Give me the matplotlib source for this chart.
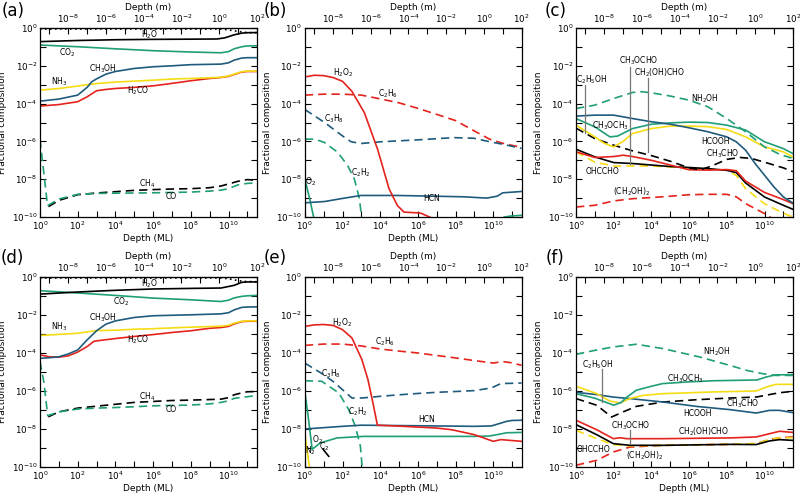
import numpy as np
import matplotlib
matplotlib.use("Agg")
import matplotlib.pyplot as plt
from matplotlib.ticker import FixedLocator, LogFormatterSciNotation, NullFormatter

# ---------------- data: (log10 depth [ML], log10 fractional composition) ----------------
# Panel (a)
A_TOTAL = [(0, -0.05), (9.6, -0.05), (10.0, -0.1), (10.5, -0.18), (11.0, -0.24), (11.5, -0.25)]
A_H2O = [(0, -0.72), (2, -0.66), (4, -0.62), (6, -0.6), (8, -0.59), (9.4, -0.58), (9.8, -0.52),
         (10.3, -0.36), (10.7, -0.27), (11, -0.25), (11.5, -0.24)]
A_CO2 = [(0, -0.9), (2, -0.99), (4, -1.1), (6, -1.2), (8, -1.27), (9.6, -1.31), (10, -1.25),
         (10.3, -1.1), (10.7, -0.99), (11, -0.95), (11.5, -0.94)]
A_CH3OH = [(0, -3.87), (1, -3.76), (2, -3.55), (2.5, -3.14), (2.75, -2.84), (3, -2.69), (3.5, -2.44),
           (4, -2.3), (5, -2.14), (6, -2.05), (7, -2.0), (8, -1.94), (9.6, -1.91), (10, -1.84),
           (10.3, -1.7), (10.7, -1.59), (11, -1.57), (11.5, -1.57)]
A_NH3 = [(0, -3.29), (1, -3.2), (2, -3.07), (2.7, -2.97), (3, -2.94), (4, -2.86), (5, -2.81), (6, -2.76),
         (7, -2.7), (8, -2.67), (9.6, -2.61), (10, -2.54), (10.3, -2.44), (10.7, -2.31), (11, -2.28), (11.5, -2.28)]
A_H2CO = [(0, -4.13), (1, -4.05), (2, -3.9), (2.5, -3.64), (3, -3.32), (3.5, -3.25), (4, -3.2), (5, -3.14),
          (6, -3.06), (7, -2.93), (8, -2.79), (9, -2.67), (9.6, -2.62), (10, -2.56), (10.3, -2.46),
          (10.7, -2.33), (11, -2.3), (11.5, -2.3)]
A_CH4 = [(0.45, -9.45), (1, -9.12), (2, -8.82), (3, -8.73), (4, -8.66), (5, -8.59), (6, -8.55), (7, -8.52),
         (8, -8.5), (9, -8.45), (9.6, -8.36), (10, -8.25), (10.5, -8.11), (11, -8.02), (11.5, -8.06)]
A_CO = [(0, -5.9), (0.4, -9.4), (1, -9.05), (2, -8.8), (3, -8.75), (4, -8.74), (5, -8.73), (6, -8.72),
        (7, -8.7), (8, -8.68), (9, -8.63), (9.6, -8.58), (10, -8.5), (10.5, -8.3), (11, -8.22), (11.5, -8.2)]

# Panel (b)
B_H2O2 = [(0, -2.59), (0.5, -2.5), (1, -2.52), (1.5, -2.62), (2, -2.82), (2.5, -3.35), (3.16, -4.48),
          (3.86, -6.41), (4.47, -8.51), (4.91, -9.39), (5.26, -9.74), (6.14, -9.79), (6.84, -10.1)]
B_C2H6 = [(0, -3.55), (1, -3.5), (2, -3.5), (3, -3.55), (4, -3.75), (5, -3.96), (6, -4.25), (7, -4.57),
          (8, -4.9), (9, -5.45), (9.8, -5.88), (10.5, -6.1), (11.5, -6.32)]
B_C3H8 = [(0, -4.31), (0.53, -4.66), (1.05, -5.0), (2, -5.71), (2.46, -6.02), (2.98, -6.11), (4.03, -6.02),
          (5.96, -5.92), (7.9, -5.8), (8.95, -5.83), (9.82, -6.02), (10.5, -6.15), (11.5, -6.37)]
B_C2H2 = [(0, -5.88), (0.53, -5.88), (1.05, -6.06), (1.75, -6.58), (2.28, -7.29), (2.63, -7.99),
          (2.9, -9.04), (3.02, -10.1)]
B_HCN = [(0, -9.25), (1.05, -9.18), (2.1, -9.0), (2.98, -8.86), (4.9, -8.86), (8.42, -8.93), (9.65, -9.0),
         (10.2, -8.9), (10.5, -8.72), (11.5, -8.65)]
B_O2 = [(0, -7.99), (0.26, -9.04), (0.49, -10.1), (0.7, -12), (10.0, -12), (10.33, -10.1), (10.6, -10.0),
        (10.9, -9.95), (11.5, -9.91)]

# Panel (c)
C_NH2OH = [(0, -4.26), (1, -4.08), (2, -3.73), (3, -3.41), (3.5, -3.37), (4, -3.43), (5, -3.6), (6, -3.82),
           (7, -4.17), (8, -4.79), (9, -5.49), (10, -6.29), (10.8, -6.68), (11.5, -6.9)]
C_HCOOH = [(0, -4.66), (1, -4.61), (2, -4.61), (3, -4.79), (4, -4.96), (5, -5.09), (6, -5.28), (7, -5.49),
           (8, -5.76), (8.5, -6.02), (9, -6.47), (9.5, -7.17), (10, -7.79), (10.5, -8.41), (11, -8.94), (11.5, -9.26)]
C_CH3OCH3 = [(0, -4.79), (1, -5.23), (1.8, -5.76), (2.2, -5.72), (3, -5.32), (4, -5.09), (5, -5.02),
             (6, -4.98), (7, -5.0), (8, -5.14), (9, -5.4), (10, -6.02), (11, -6.38), (11.5, -6.64)]
C_C2H5OH = [(0, -5.14), (1, -5.76), (1.5, -6.1), (2, -6.29), (2.5, -6.0), (3, -5.58), (4, -5.32),
            (5, -5.19), (6, -5.19), (7, -5.22), (8, -5.37), (9, -5.76), (10, -6.29), (11, -6.55), (11.5, -6.82)]
C_CH3CHO = [(0, -5.3), (1, -5.85), (2, -6.2), (3, -6.5), (4, -6.75), (5, -7.05), (6, -7.4), (6.6, -7.5),
            (7.2, -7.3), (8, -6.95), (8.7, -6.85), (9.3, -6.9), (10, -7.1), (11, -7.4), (11.5, -7.6)]
C_CH2OHCHO = [(0, -6.55), (1, -6.85), (2, -6.8), (2.5, -6.73), (3, -6.8), (4, -7.0), (5, -7.25), (6, -7.5),
              (7, -7.52), (8, -7.49), (8.5, -7.55), (9, -8.1), (10, -8.7), (11, -9.08), (11.5, -9.29)]
C_CH3OCHO = [(0, -6.41), (1, -6.82), (2, -7.12), (3, -7.17), (4, -7.25), (5, -7.33), (6, -7.38), (7, -7.44),
             (8, -7.53), (8.5, -7.65), (9, -8.2), (10, -8.94), (11, -9.38), (11.5, -9.59)]
C_OHCCHO = [(0, -6.55), (1, -7.1), (2, -7.3), (4, -7.3), (6, -7.4), (8, -7.53), (8.5, -7.8), (9, -8.5),
            (10, -9.3), (11, -9.8), (11.5, -10.0)]
C_CH2OH2 = [(0, -9.47), (1, -9.38), (2, -9.15), (3, -9.03), (4, -8.97), (5, -8.9), (6, -8.82), (7, -8.8),
            (8, -8.8), (8.5, -8.93), (9, -9.29), (10, -9.82), (10.6, -10.2)]

# Panel (d)
D_TOTAL = [(0, -0.05), (9.6, -0.05), (10.0, -0.09), (10.4, -0.17), (10.8, -0.23), (11.5, -0.25)]
D_H2O = [(0, -0.9), (2, -0.79), (4, -0.7), (6, -0.63), (8, -0.6), (9.6, -0.58), (10.3, -0.44),
         (10.7, -0.28), (11, -0.26), (11.5, -0.26)]
D_CO2 = [(0, -0.72), (2, -0.84), (4, -0.97), (6, -1.11), (8, -1.2), (9.6, -1.29), (10, -1.22),
         (10.3, -1.1), (10.7, -1.02), (11, -0.99), (11.5, -0.97)]
D_CH3OH = [(0, -4.28), (0.5, -4.25), (1, -4.2), (1.5, -4.05), (2, -3.84), (2.5, -3.31), (3, -2.83),
           (3.5, -2.48), (4, -2.31), (5, -2.13), (6, -2.04), (8, -1.99), (9.6, -1.94), (10, -1.88),
           (10.3, -1.73), (10.7, -1.6), (11, -1.58), (11.5, -1.57)]
D_NH3 = [(0, -3.08), (1, -3.02), (2, -2.96), (3, -2.82), (4, -2.8), (5, -2.75), (6, -2.72), (7, -2.68),
         (8, -2.64), (9.6, -2.59), (10, -2.54), (10.3, -2.43), (10.7, -2.33), (11, -2.31), (11.5, -2.31)]
D_H2CO = [(0, -4.1), (0.5, -4.2), (1, -4.22), (1.5, -4.15), (2, -3.95), (2.5, -3.66), (2.87, -3.38),
          (3.5, -3.3), (4, -3.24), (5, -3.13), (6, -3.03), (7, -2.92), (8, -2.83), (9, -2.7), (9.6, -2.66),
          (10, -2.6), (10.3, -2.47), (10.7, -2.35), (11, -2.33), (11.5, -2.33)]
D_CH4 = [(0.44, -7.36), (1, -7.1), (2, -6.9), (3, -6.8), (4, -6.7), (5, -6.6), (6, -6.55), (7, -6.5),
         (8, -6.48), (9, -6.45), (9.6, -6.43), (10, -6.35), (10.3, -6.2), (10.7, -6.1), (11, -6.04), (11.5, -6.03)]
D_CO = [(0, -4.45), (0.2, -5.5), (0.41, -7.3), (1, -7.1), (2, -6.95), (3, -6.9), (4, -6.87), (5, -6.83),
        (6, -6.78), (7, -6.76), (8, -6.74), (9, -6.68), (9.6, -6.6), (10, -6.52), (10.3, -6.39),
        (10.7, -6.33), (11, -6.3), (11.5, -6.24)]

# Panel (e)
E_H2O2 = [(0, -2.6), (0.5, -2.52), (1, -2.5), (1.5, -2.55), (2, -2.77), (2.5, -3.21), (3.03, -4.35),
          (3.35, -5.4), (3.65, -6.8), (3.85, -7.8), (5, -7.85), (6, -7.9), (7, -7.95), (7.8, -8.04),
          (9, -8.3), (10, -8.65), (10.4, -8.56), (11.5, -8.65)]
E_C2H6 = [(0, -3.6), (1, -3.53), (2, -3.53), (3, -3.63), (4, -3.79), (5, -3.9), (6, -4.0), (7, -4.13),
          (8, -4.26), (9, -4.4), (10, -4.53), (10.5, -4.45), (11, -4.52), (11.5, -4.65)]
E_C3H8 = [(0, -4.53), (1, -5.14), (1.5, -5.5), (2, -5.93), (2.5, -6.37), (3.03, -6.37), (4, -6.28),
          (5, -6.2), (6, -6.13), (7, -6.07), (8.15, -6.02), (9, -5.98), (9.9, -5.84), (10.4, -5.61), (11.5, -5.58)]
E_C2H2 = [(0, -5.46), (0.9, -5.49), (1.8, -6.1), (2.33, -6.98), (2.68, -7.86), (2.95, -8.91), (3.05, -10.1)]
E_HCN = [(0, -8.0), (2, -7.86), (3, -7.8), (5, -7.82), (7, -7.84), (9, -7.86), (9.9, -7.84), (10.3, -7.72),
         (10.7, -7.6), (11, -7.55), (11.5, -7.54)]
E_O2 = [(0, -6.02), (0.2, -7.5), (0.39, -9.07), (0.81, -8.74), (1.71, -8.47), (3.12, -8.39), (5, -8.39),
        (7, -8.39), (9, -8.39), (9.8, -8.37), (10.3, -8.28), (10.7, -8.2), (11.5, -8.18)]
E_N2 = [(0, -8.2), (0.27, -10.2)]
E_C2 = [(0.97, -9.07), (1.27, -9.44)]

# Panel (f)
F_NH2OH = [(0, -4.07), (1, -3.86), (1.98, -3.68), (3.2, -3.54), (4.62, -3.77), (6.56, -4.21), (8.15, -4.65),
           (9.03, -4.91), (9.91, -5.09), (10.6, -5.18), (11.5, -5.18)]
F_CH3OCH3 = [(0, -6.14), (1, -6.38), (1.6, -6.6), (2.0, -6.75), (2.4, -6.6), (2.7, -6.32), (3.2, -5.96),
             (4, -5.75), (4.6, -5.61), (6, -5.52), (7.3, -5.46), (9.6, -5.42), (10.1, -5.26), (10.6, -5.15), (11.5, -5.14)]
F_C2H5OH = [(0, -5.75), (1.1, -6.14), (1.8, -6.53), (2.33, -6.63), (2.86, -6.4), (3.56, -6.23), (4.62, -6.14),
            (7.27, -6.05), (9.56, -6.0), (10.1, -5.79), (10.6, -5.65), (11.5, -5.65)]
F_HCOOH = [(0, -6.07), (1.1, -6.19), (1.98, -6.32), (2.86, -6.4), (4.62, -6.58), (6.38, -6.81), (8.15, -6.98),
           (9.56, -7.16), (10.26, -7.02), (10.8, -7.02), (11.5, -7.14)]
F_CH3CHO = [(0, -6.4), (1.1, -6.75), (1.89, -7.37), (2.5, -7.1), (3.2, -6.81), (4.62, -6.58), (6.38, -6.46),
            (8.15, -6.37), (9.56, -6.32), (10.26, -6.19), (10.8, -6.09), (11.5, -6.02)]
F_CH2OHCHO = [(0, -7.54), (1.1, -8.04), (1.98, -8.51), (2.33, -8.46), (2.68, -8.51), (4.62, -8.51),
              (8.15, -8.47), (9.56, -8.42), (10.26, -8.25), (10.8, -8.12), (11.5, -8.18)]
F_CH3OCHO = [(0, -7.77), (1.1, -8.3), (1.98, -8.77), (2.86, -8.86), (4.62, -8.86), (8.15, -8.81),
             (9.56, -8.82), (10.26, -8.63), (10.8, -8.56), (11.5, -8.6)]
F_OHCCHO = [(0, -8.07), (1.1, -8.51), (1.98, -8.82), (2.86, -8.89), (4.62, -8.86), (8.15, -8.8),
            (9.56, -8.77), (10.26, -8.56), (10.8, -8.46), (11.5, -8.46)]
F_CH2OH2 = [(0, -9.91), (1.1, -9.65), (1.98, -9.21), (2.86, -8.95), (4.62, -8.86), (8.15, -8.81),
            (9.56, -8.77), (10.26, -8.56), (10.8, -8.46), (11.5, -8.42)]

# ---------------- styling ----------------
K = "#000000"
GR = "#1f9e78"
BL = "#1f5b7d"
YE = "#f6dc14"
RD = "#e4231d"
SOL = "-"
DSH = (0, (5, 3))
DOT = (0, (1, 2))

PANELS = [
    ("(a)", [(A_TOTAL, K, DOT), (A_CO2, GR, SOL), (A_H2O, K, SOL), (A_H2CO, RD, SOL), (A_NH3, YE, SOL),
             (A_CH3OH, BL, SOL), (A_CH4, K, DSH), (A_CO, GR, DSH)],
     [("H$_2$O", 5.79, -0.33), ("CO$_2$", 1.42, -1.31), ("CH$_3$OH", 3.31, -2.14), ("NH$_3$", 1.03, -2.84),
      ("H$_2$CO", 5.22, -3.32), ("CH$_4$", 5.66, -8.23), ("CO", 6.96, -8.94)], []),
    ("(b)", [(B_C2H6, RD, DSH), (B_C3H8, BL, DSH), (B_C2H2, GR, DSH), (B_O2, GR, SOL), (B_HCN, BL, SOL),
             (B_H2O2, RD, SOL)],
     [("H$_2$O$_2$", 2.02, -2.38), ("C$_2$H$_6$", 4.39, -3.49), ("C$_3$H$_8$", 1.54, -4.8),
      ("C$_2$H$_2$", 2.95, -7.64), ("O$_2$", 0.3, -8.13), ("HCN", 6.72, -9.04)], []),
    ("(c)", [(C_CH2OH2, RD, DSH), (C_OHCCHO, YE, DSH), (C_CH3OCHO, K, SOL), (C_CH2OHCHO, RD, SOL),
             (C_CH3CHO, K, DSH), (C_C2H5OH, YE, SOL), (C_CH3OCH3, GR, SOL), (C_HCOOH, BL, SOL),
             (C_NH2OH, GR, DSH)],
     [("NH$_2$OH", 6.86, -3.73), ("CH$_3$OCH$_3$", 1.83, -5.19), ("HCOOH", 7.41, -6.02),
      ("CH$_3$CHO", 7.8, -6.64), ("OHCCHO", 1.39, -7.61), ("(CH$_2$OH)$_2$", 2.98, -8.67),
      ("C$_2$H$_5$OH", 0.81, -2.72), ("CH$_3$OCHO", 3.3, -1.72), ("CH$_2$(OH)CHO", 4.41, -2.37)],
     [(0.48, -3.0, -5.55), (2.86, -2.05, -7.17), (3.83, -2.67, -6.55)]),
    ("(d)", [(D_TOTAL, K, DOT), (D_CO2, GR, SOL), (D_H2O, K, SOL), (D_H2CO, RD, SOL), (D_NH3, YE, SOL),
             (D_CH3OH, BL, SOL), (D_CH4, K, DSH), (D_CO, GR, DSH)],
     [("H$_2$O", 5.79, -0.35), ("CO$_2$", 4.28, -1.29), ("CH$_3$OH", 3.31, -2.17), ("NH$_3$", 1.03, -2.64),
      ("H$_2$CO", 5.22, -3.31), ("CH$_4$", 5.66, -6.3), ("CO", 6.96, -6.95)], []),
    ("(e)", [(E_C2H6, RD, DSH), (E_C3H8, BL, DSH), (E_C2H2, GR, DSH), (E_O2, GR, SOL), (E_HCN, BL, SOL),
             (E_N2, YE, SOL), (E_C2, K, SOL), (E_H2O2, RD, SOL)],
     [("H$_2$O$_2$", 1.98, -2.42), ("C$_2$H$_6$", 4.27, -3.39), ("C$_3$H$_8$", 1.41, -5.11),
      ("C$_2$H$_2$", 2.82, -7.07), ("HCN", 6.44, -7.51), ("O$_2$", 0.68, -8.56), ("N$_2$", 0.32, -9.12),
      ("C$_2$", 1.0, -8.93)], []),
    ("(f)", [(F_CH2OH2, RD, DSH), (F_OHCCHO, YE, DSH), (F_CH3OCHO, K, SOL), (F_CH2OHCHO, RD, SOL),
             (F_CH3CHO, K, DSH), (F_HCOOH, BL, SOL), (F_C2H5OH, YE, SOL), (F_CH3OCH3, GR, SOL),
             (F_NH2OH, GR, DSH)],
     [("NH$_2$OH", 7.48, -3.95), ("C$_2$H$_5$OH", 1.18, -4.6), ("CH$_3$OCH$_3$", 5.8, -5.35),
      ("CH$_3$CHO", 8.85, -6.67), ("HCOOH", 6.47, -7.19), ("CH$_3$OCHO", 2.89, -7.81),
      ("CH$_2$(OH)CHO", 6.77, -8.16), ("OHCCHO", 0.95, -9.07), ("(CH$_2$OH)$_2$", 3.65, -9.42)],
     [(1.36, -4.86, -6.58), (2.86, -8.04, -8.81)]),
]

LEFTS = [0.05, 0.381, 0.72]
W = 0.271
ROWS = [(0.5616, 0.3818), (0.0566, 0.3838)]
ML_TO_M = 10 ** -9.5
TICK_FS = 6.3
AX_FS = 6.5
LAB_FS = 5.5

plt.rcParams["font.family"] = "DejaVu Sans"
plt.rcParams["mathtext.fontset"] = "dejavusans"

fig = plt.figure(figsize=(8, 4.95), dpi=100)

for i, (tag, series, labels, leaders) in enumerate(PANELS):
    r, c = divmod(i, 3)
    b, h = ROWS[r]
    ax = fig.add_axes([LEFTS[c], b, W, h])
    ax.set_xscale("log")
    ax.set_yscale("log")
    ax.set_xlim(1, 10 ** 11.5)
    ax.set_ylim(1e-10, 1.0)
    for pts, col, ls in series:
        arr = np.array(pts, dtype=float)
        ax.plot(10 ** arr[:, 0], 10 ** arr[:, 1], color=col, linestyle=ls, lw=1.2)
    for x, y1, y2 in leaders:
        ax.plot([10 ** x, 10 ** x], [10 ** y1, 10 ** y2], color="#777777", lw=0.9)
    for txt, x, y in labels:
        ax.text(10 ** x, 10 ** y, txt, fontsize=LAB_FS, ha="center", va="center")

    ax.xaxis.set_major_locator(FixedLocator([10.0 ** k for k in range(0, 11, 2)]))
    ax.xaxis.set_minor_locator(FixedLocator([10.0 ** k for k in range(1, 12, 2)]))
    ax.yaxis.set_major_locator(FixedLocator([10.0 ** k for k in range(-10, 1, 2)]))
    ax.yaxis.set_minor_locator(FixedLocator([10.0 ** k for k in range(-9, 0, 2)]))
    ax.xaxis.set_major_formatter(LogFormatterSciNotation())
    ax.yaxis.set_major_formatter(LogFormatterSciNotation())
    ax.xaxis.set_minor_formatter(NullFormatter())
    ax.yaxis.set_minor_formatter(NullFormatter())
    ax.tick_params(which="both", direction="in", length=4, width=0.8, labelsize=TICK_FS, pad=2,
                   top=False, right=True)
    for s in ax.spines.values():
        s.set_linewidth(0.9)

    sec = ax.secondary_xaxis("top", functions=(lambda v: v * ML_TO_M, lambda v: v / ML_TO_M))
    sec.xaxis.set_major_locator(FixedLocator([10.0 ** k for k in range(-8, 3, 2)]))
    sec.xaxis.set_minor_locator(FixedLocator([10.0 ** k for k in range(-9, 2, 2)]))
    sec.xaxis.set_major_formatter(LogFormatterSciNotation())
    sec.xaxis.set_minor_formatter(NullFormatter())
    sec.tick_params(which="both", direction="in", length=4, width=0.8, labelsize=TICK_FS, pad=2)
    sec.set_xlabel("Depth (m)", fontsize=AX_FS, labelpad=2)

    ax.set_xlabel("Depth (ML)", fontsize=AX_FS, labelpad=1)
    ax.set_ylabel("Fractional composition", fontsize=AX_FS, labelpad=3)

    fx = [0.016, 0.344, 0.694][c]
    fy = [0.978, 0.478][r]
    fig.text(fx, fy, tag, fontsize=12, ha="center", va="center")

fig.savefig("out.png", dpi=100)
